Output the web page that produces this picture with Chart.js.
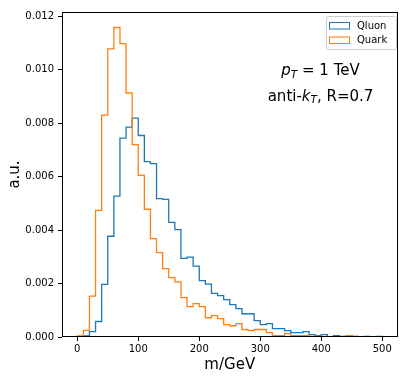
<!DOCTYPE html>
<html>
<head>
<meta charset="utf-8">
<script src="https://cdn.jsdelivr.net/npm/chart.js@4.4.1/dist/chart.umd.min.js"></script>
<style>
    html, body { margin: 0; padding: 0; background: #fff; }
</style>
</head>
<body>
<canvas id="massChart" width="407" height="380"></canvas>
<script>
// bin edges (GeV) and normalised histogram contents per bin
const binEdges = [0, 10, 20, 30, 40, 50, 60, 70, 80, 90, 100, 110, 120, 130, 140, 150, 160, 170, 180, 190,
    200, 210, 220, 230, 240, 250, 260, 270, 280, 290, 300, 310, 320, 330, 340, 350, 360, 370, 380, 390,
    400, 410, 420, 430, 440, 450, 460, 470, 480, 490, 500];

const qluonDensity = [0, 0.00004, 0.0002, 0.00058, 0.00197, 0.00377, 0.00527, 0.00744, 0.00785, 0.00819,
    0.00754, 0.00656, 0.00649, 0.00518, 0.00515, 0.00429, 0.00402, 0.00294, 0.00299, 0.00265,
    0.00211, 0.00198, 0.00163, 0.00155, 0.0014, 0.00121, 0.00106, 0.00087, 0.00087, 0.00061,
    0.00046, 0.0005, 0.00031, 0.00031, 0.00024, 0.00016, 0.00016, 0.0002, 0.00009, 0.00005,
    0.00009, 0.00001, 0.00005, 0.00002, 0.00005, 0.00002, 0, 0.00002, 0, 0.00002];

const quarkDensity = [0.00004, 0.00025, 0.00153, 0.00474, 0.0083, 0.01078, 0.01158, 0.01098, 0.00913, 0.0072,
    0.00605, 0.00478, 0.00368, 0.00316, 0.00256, 0.00222, 0.00206, 0.00147, 0.00114, 0.00125,
    0.00114, 0.00072, 0.0008, 0.00069, 0.00046, 0.00042, 0.0005, 0.00028, 0.00024, 0.00028,
    0.00028, 0.00016, 0.00005, 0.00005, 0.00013, 0.00005, 0.00005, 0.00005, 0.00002, 0.00002,
    0, 0, 0, 0, 0.00005, 0.00002, 0, 0, 0, 0];

const seriesLabels = ['Qluon', 'Quark'];
const seriesColors = ['#1f77b4', '#ff7f0e'];
const xTickValues = [0, 100, 200, 300, 400, 500];
const yTickValues = [0, 0.002, 0.004, 0.006, 0.008, 0.010, 0.012];

const FONT = 'DejaVu Sans';

// step outline like matplotlib histtype='step'
function stepOutline(edges, values) {
    const pts = [{ x: edges[0], y: 0 }];
    values.forEach((v, i) => pts.push({ x: edges[i], y: v }));
    pts.push({ x: edges[edges.length - 1], y: 0 });
    return pts;
}

function drawMixed(ctx, parts, cx, baseline) {
    let total = 0;
    parts.forEach(p => {
        ctx.font = p.font;
        p.w = ctx.measureText(p.text).width;
        total += p.w;
    });
    let x = cx - total / 2;
    parts.forEach(p => {
        ctx.font = p.font;
        ctx.fillText(p.text, x, baseline + (p.dy || 0));
        x += p.w;
    });
}

const overlayPlugin = {
    id: 'overlay',
    afterDatasetsDraw(chart) {
        const { ctx, chartArea: a } = chart;
        ctx.save();

        // frame
        ctx.strokeStyle = '#000';
        ctx.lineWidth = 1;
        ctx.strokeRect(Math.round(a.left) + 0.5, Math.round(a.top) + 0.5,
            Math.round(a.right - a.left) - 1, Math.round(a.bottom - a.top) - 1);

        // legend
        const bx = a.right - 71.5, by = a.top + 4, bw = 70, bh = 33;
        ctx.fillStyle = 'rgba(255,255,255,0.8)';
        ctx.strokeStyle = '#cccccc';
        ctx.beginPath();
        ctx.roundRect(Math.round(bx) + 0.5, Math.round(by) + 0.5, bw, bh, 2);
        ctx.fill();
        ctx.stroke();
        ctx.font = '10px "' + FONT + '"';
        ctx.textBaseline = 'middle';
        ctx.textAlign = 'left';
        chart.data.datasets.forEach((ds, i) => {
            const ry = Math.round(by) + 6.5 + i * 14.5;
            ctx.strokeStyle = ds.borderColor;
            ctx.lineWidth = 1;
            ctx.strokeRect(Math.round(bx) + 3.5, ry, 20, 6.5);
            ctx.fillStyle = '#000';
            ctx.fillText(ds.label, Math.round(bx) + 31, ry + 3.5);
        });

        // annotation text
        ctx.textBaseline = 'alphabetic';
        ctx.fillStyle = '#000';
        const cx = a.left + (a.right - a.left) * 0.7705;
        drawMixed(ctx, [
            { text: 'p', font: 'italic 15px "' + FONT + '"' },
            { text: 'T', font: 'italic 10.5px "' + FONT + '"', dy: 2.5 },
            { text: ' = 1 TeV', font: '15px "' + FONT + '"' }
        ], cx, a.top + 63);
        drawMixed(ctx, [
            { text: 'anti-', font: '15px "' + FONT + '"' },
            { text: 'k', font: 'italic 15px "' + FONT + '"' },
            { text: 'T', font: 'italic 10.5px "' + FONT + '"', dy: 2.5 },
            { text: ', R=0.7', font: '15px "' + FONT + '"' }
        ], cx, a.top + 88.5);

        ctx.restore();
    }
};

const ctx = document.getElementById('massChart').getContext('2d');
new Chart(ctx, {
    type: 'line',
    data: {
        datasets: [
            {
                label: seriesLabels[0],
                data: stepOutline(binEdges, qluonDensity),
                borderColor: seriesColors[0],
                borderWidth: 1.3,
                stepped: 'before',
                pointRadius: 0,
                fill: false,
                order: 1
            },
            {
                label: seriesLabels[1],
                data: stepOutline(binEdges, quarkDensity),
                borderColor: seriesColors[1],
                borderWidth: 1.3,
                stepped: 'before',
                pointRadius: 0,
                fill: false,
                order: 0
            }
        ]
    },
    options: {
        responsive: false,
        animation: false,
        devicePixelRatio: 1,
        layout: {
            padding: { top: 12, right: 9.5, left: 0, bottom: 0 }
        },
        plugins: {
            legend: { display: false },
            tooltip: { enabled: false }
        },
        scales: {
            x: {
                type: 'linear',
                min: -25,
                max: 525,
                afterBuildTicks: scale => { scale.ticks = xTickValues.map(v => ({ value: v })); },
                afterFit: scale => { scale.height = 43; },
                border: { display: false },
                grid: { drawOnChartArea: false, drawTicks: true, tickLength: 4, color: '#000', lineWidth: 1 },
                ticks: {
                    color: '#000',
                    font: { family: FONT, size: 10 },
                    padding: 2,
                    maxRotation: 0,
                    autoSkip: false,
                    callback: v => String(v)
                },
                title: {
                    display: true,
                    text: 'm/GeV',
                    color: '#000',
                    font: { family: FONT, size: 15 },
                    padding: { top: 0, bottom: 6 }
                }
            },
            y: {
                min: 0,
                max: 0.01216,
                afterBuildTicks: scale => { scale.ticks = yTickValues.map(v => ({ value: v })); },
                afterFit: scale => { scale.width = 62; },
                border: { display: false },
                grid: { drawOnChartArea: false, drawTicks: true, tickLength: 4, color: '#000', lineWidth: 1 },
                ticks: {
                    color: '#000',
                    font: { family: FONT, size: 10 },
                    padding: 4,
                    autoSkip: false,
                    callback: v => v.toFixed(3)
                },
                title: {
                    display: true,
                    text: 'a.u.',
                    color: '#000',
                    font: { family: FONT, size: 15 },
                    padding: { top: 6, bottom: 0 }
                }
            }
        }
    },
    plugins: [overlayPlugin]
});
</script>
</body>
</html>
